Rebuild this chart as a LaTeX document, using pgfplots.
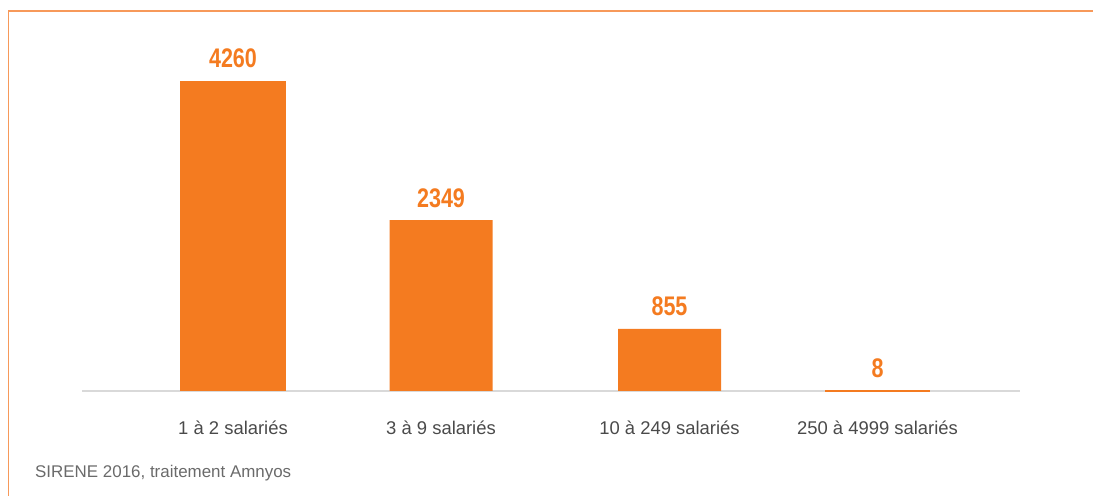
\documentclass[border=0pt]{standalone}
\usepackage{pgfplots}
\pgfplotsset{compat=1.18}
\usepackage{fontspec}
\setmainfont{Liberation Sans}
\newfontfamily\numfont[FakeStretch=0.8]{Liberation Sans Bold}
\definecolor{barorange}{HTML}{F47B20}
\definecolor{frameorange}{HTML}{F7995A}
\definecolor{basegrey}{HTML}{D9D9D9}
\definecolor{labgrey}{HTML}{4A4A4A}
\definecolor{srcgrey}{HTML}{6A6A6A}
\begin{document}
\begin{tikzpicture}[x=1bp,y=1bp]
\useasboundingbox (0,0) rectangle (1093,496);
\draw[frameorange, line width=1.2bp] (8.5,0) -- (8.5,485) -- (1093,485);
\begin{axis}[
  at={(82bp,105bp)}, anchor=south west,
  scale only axis, width=938bp, height=310bp,
  xmin=82, xmax=1020, ymin=0, ymax=4260,
  clip=false,
  axis x line*=bottom, hide y axis,
  axis line style={basegrey, line width=2.5bp, -},
  xtick={233,441,669.5,877.5},
  xticklabels={1 à 2 salariés, 3 à 9 salariés, 10 à 249 salariés, 250 à 4999 salariés},
  xtick style={draw=none},
  xticklabel style={anchor=base, yshift=-39bp, font=\fontsize{18.5}{21}\selectfont, text=labgrey},
  ybar, bar width=103bp, bar shift=0pt,
  /pgf/number format/1000 sep={},
  /pgf/number format/assume math mode=true,
  nodes near coords,
  every node near coord/.append style={anchor=base, yshift=13bp, font=\numfont\fontsize{27}{30}\selectfont, text=barorange},
]
\addplot[fill=barorange, draw=none, bar width=106bp, bar shift=0pt] coordinates {(233,4260)};
\addplot[fill=barorange, draw=none, bar shift=0pt] coordinates {(441,2349) (669.5,855)};
\addplot[fill=barorange, draw=barorange, line width=1.5bp, bar shift=0pt] coordinates {(877.5,8)};
\end{axis}
\node[anchor=base west, inner sep=0, text=srcgrey, font=\fontsize{17}{20}\selectfont] at (35,18) {SIRENE 2016, traitement Amnyos};
\end{tikzpicture}
\end{document}
